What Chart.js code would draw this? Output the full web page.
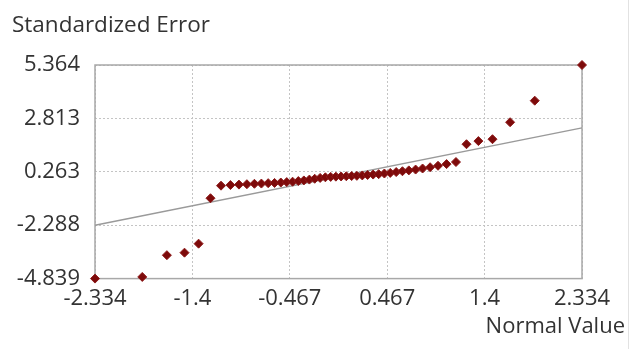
<!DOCTYPE html>
<html>
<head>
<meta charset="utf-8">
<script src="https://cdn.jsdelivr.net/npm/chart.js@4.4.0/dist/chart.umd.min.js"></script>
<style>
html, body { margin: 0; padding: 0; background: #fff; }
</style>
</head>
<body>
<canvas id="myChart" width="633" height="349"></canvas>
<script>
// normal QQ plot: normal value (x) vs standardized error (y)
const normalValues = [
    -2.334, -1.881, -1.645, -1.476, -1.341, -1.227, -1.126, -1.036, -0.954, -0.878,
    -0.806, -0.739, -0.674, -0.613, -0.553, -0.496, -0.440, -0.385, -0.332, -0.279,
    -0.228, -0.176, -0.126, -0.075, -0.025, 0.025, 0.075, 0.126, 0.176, 0.228,
    0.279, 0.332, 0.385, 0.440, 0.496, 0.553, 0.613, 0.674, 0.739, 0.806,
    0.878, 0.954, 1.036, 1.126, 1.227, 1.341, 1.476, 1.645, 1.881, 2.334
];
const stdErrors = [
    -4.839, -4.76, -3.72, -3.60, -3.17, -1.00, -0.40, -0.37, -0.35, -0.33,
    -0.31, -0.30, -0.28, -0.27, -0.25, -0.23, -0.21, -0.18, -0.15, -0.11,
    -0.07, -0.03, 0.00, 0.02, 0.03, 0.04, 0.05, 0.06, 0.07, 0.09,
    0.11, 0.13, 0.15, 0.18, 0.21, 0.25, 0.29, 0.33, 0.37, 0.42,
    0.48, 0.55, 0.63, 0.73, 1.58, 1.73, 1.82, 2.63, 3.66, 5.364
];
const lineX = [-2.334, 2.334];
const lineY = [-2.288, 2.36];

const xTicks = [-2.334, -1.4, -0.467, 0.467, 1.4, 2.334];
const xTickLabels = ["-2.334", "-1.4", "-0.467", "0.467", "1.4", "2.334"];
const yTicks = [-4.839, -2.288, 0.263, 2.813, 5.364];
const yTickLabels = ["-4.839", "-2.288", "0.263", "2.813", "5.364"];

const FONT = "'Open Sans', 'Noto Sans', sans-serif";
const TEXT = "#333333";

const frame = {
    id: 'frame',
    beforeDatasetsDraw(chart) {
        const a = chart.chartArea;
        const c = chart.ctx;
        c.save();
        c.strokeStyle = '#a8a8a8';
        c.lineWidth = 1.5;
        c.strokeRect(a.left, a.top, a.right - a.left, a.bottom - a.top);
        c.strokeStyle = '#e2e2e2';
        c.lineWidth = 1;
        c.beginPath();
        c.moveTo(628.5, 0);
        c.lineTo(628.5, chart.height);
        c.stroke();
        c.restore();
    }
};

function getChart() {
    var ctx = document.getElementById("myChart");
    var points = normalValues.map((x, i) => ({x: x, y: stdErrors[i]}));
    var trend = lineX.map((x, i) => ({x: x, y: lineY[i]}));

    new Chart(ctx, {
        type: 'scatter',
        data: {
            datasets: [{
                data: points,
                pointStyle: 'rectRot',
                pointRadius: 4.5,
                backgroundColor: '#7d0a0a',
                borderColor: '#8e1a1a',
                borderWidth: 1,
                clip: false
            }, {
                data: trend,
                showLine: true,
                pointRadius: 0,
                borderColor: '#9a9a9a',
                borderWidth: 1.5,
                clip: false
            }]
        },
        plugins: [frame],
        options: {
            responsive: false,
            animation: false,
            layout: { padding: { left: 12, right: 8, top: 0, bottom: 0 } },
            plugins: {
                legend: { display: false },
                tooltip: { enabled: false },
                title: {
                    display: true,
                    text: 'Standardized Error',
                    align: 'start',
                    color: TEXT,
                    font: { family: FONT, size: 22.5, weight: 'normal', lineHeight: 1.2 },
                    padding: { top: 12, bottom: 26 }
                },
                subtitle: {
                    display: true,
                    position: 'bottom',
                    text: 'Normal Value',
                    align: 'end',
                    color: TEXT,
                    font: { family: FONT, size: 22, weight: 'normal', lineHeight: 1.2 },
                    padding: { top: 2, bottom: 9 }
                }
            },
            scales: {
                x: {
                    type: 'linear',
                    min: -2.334,
                    max: 2.334,
                    afterBuildTicks: s => { s.ticks = xTicks.map(v => ({value: v})); },
                    afterFit: s => { s.height = 33; },
                    grid: { color: '#c4c4c4', drawTicks: false },
                    border: { display: false, dash: [2, 2] },
                    ticks: {
                        color: TEXT,
                        padding: 7,
                        maxRotation: 0,
                        autoSkip: false,
                        font: { family: FONT, size: 22 },
                        callback: (v, i) => xTickLabels[i]
                    }
                },
                y: {
                    type: 'linear',
                    min: -4.839,
                    max: 5.364,
                    afterBuildTicks: s => { s.ticks = yTicks.map(v => ({value: v})); },
                    afterFit: s => { s.width = 83; },
                    grid: { color: '#c4c4c4', drawTicks: false },
                    border: { display: false, dash: [2, 2] },
                    ticks: {
                        color: TEXT,
                        padding: 15,
                        autoSkip: false,
                        font: { family: FONT, size: 22 },
                        callback: (v, i) => yTickLabels[i]
                    }
                },
                // empty right-hand axis that only keeps room to the right of the plot
                spacer: {
                    type: 'linear',
                    position: 'right',
                    min: 0,
                    max: 1,
                    afterFit: s => { s.width = 43; },
                    grid: { display: false },
                    border: { display: false },
                    ticks: { display: false }
                }
            }
        }
    });
}

getChart();
</script>
</body>
</html>
